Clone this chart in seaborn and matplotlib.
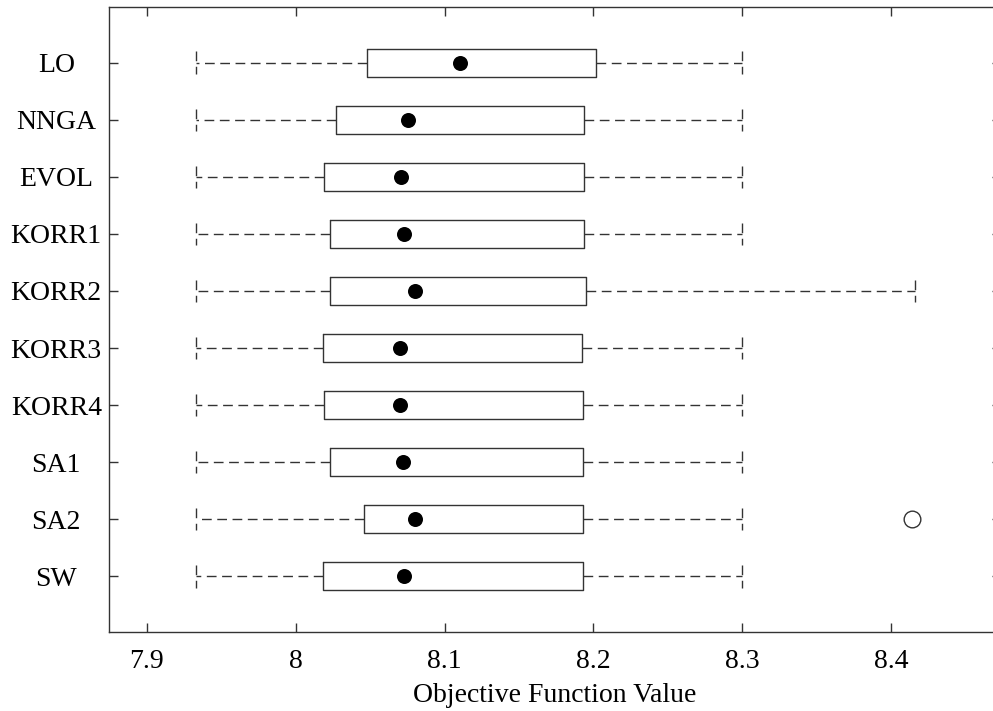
import numpy as np
import pandas as pd
import matplotlib
matplotlib.use("Agg")
import matplotlib.pyplot as plt
import seaborn as sns

# Five-number summaries of the objective function value per method
methods = ["LO", "NNGA", "EVOL", "KORR1", "KORR2", "KORR3", "KORR4", "SA1", "SA2", "SW"]
lower_whisker = [7.933, 7.933, 7.933, 7.933, 7.933, 7.933, 7.933, 7.933, 7.933, 7.933]
q1 = [8.0476, 8.0270, 8.0192, 8.0228, 8.0228, 8.0183, 8.0192, 8.0228, 8.0458, 8.0183]
median = [8.1106, 8.0752, 8.0709, 8.0727, 8.0803, 8.0700, 8.0700, 8.0718, 8.0803, 8.0727]
q3 = [8.2020, 8.1935, 8.1935, 8.1935, 8.1950, 8.1925, 8.1932, 8.1932, 8.1932, 8.1932]
upper_whisker = [8.300, 8.300, 8.300, 8.300, 8.416, 8.300, 8.300, 8.300, 8.300, 8.300]

# Points beyond the whiskers
outlier_method = ["SA2"]
outlier_value = [8.414]

xticks = [7.9, 8.0, 8.1, 8.2, 8.3, 8.4]
xtick_labels = ["7.9", "8", "8.1", "8.2", "8.3", "8.4"]

rows = []
for i, m in enumerate(methods):
    for v in (lower_whisker[i], q1[i], median[i], q3[i], upper_whisker[i]):
        rows.append({"method": m, "value": v})
df = pd.DataFrame(rows)

sns.set_style("ticks")
plt.rcParams["font.family"] = ["Liberation Serif", "DejaVu Serif"]
plt.rcParams["axes.edgecolor"] = "#333333"
plt.rcParams["axes.linewidth"] = 1.0

W, H = 993, 711
fig = plt.figure(figsize=(W / 100, H / 100), dpi=100)
ax = fig.add_axes([109 / W, 79 / H, 892 / W, 625 / H])

line_col = "#333333"
dash = (0, (7, 4))
sns.boxplot(
    data=df, x="value", y="method", order=methods, ax=ax,
    whis=(0, 100), fill=False, width=0.5, color=line_col, linewidth=1.0,
    showfliers=False, capwidths=0.4,
    whiskerprops=dict(linestyle=dash, color=line_col),
    capprops=dict(linestyle=dash, color=line_col),
    boxprops=dict(color=line_col),
    medianprops=dict(visible=False),
)

# Medians as filled dots
sns.stripplot(x=median, y=methods, order=methods, ax=ax, jitter=False,
              color="black", size=10.8, linewidth=0, zorder=5)
# Outliers as open circles
sns.stripplot(x=outlier_value, y=outlier_method, order=methods, ax=ax, jitter=False,
              color="white", edgecolor=line_col, linewidth=1.0, size=12, zorder=5)

ax.set_xlim(7.8745, 8.474)
ax.set_ylim(len(methods) - 1 + 0.98, -0.98)
ax.set_xticks(xticks, labels=xtick_labels)
ax.set_xlabel("Objective Function Value", fontsize=20, color="black", labelpad=6.5)
ax.set_ylabel("")

ax.tick_params(axis="both", direction="in", length=6.5, width=1.0, color=line_col,
               top=True, right=True, labelsize=20, labelcolor="black")
ax.tick_params(axis="x", pad=12)
ax.tick_params(axis="y", pad=38)
for lab in ax.get_yticklabels():
    lab.set_horizontalalignment("center")

for s in ax.spines.values():
    s.set_visible(True)
    s.set_color(line_col)

fig.savefig("out.png", dpi=100)
